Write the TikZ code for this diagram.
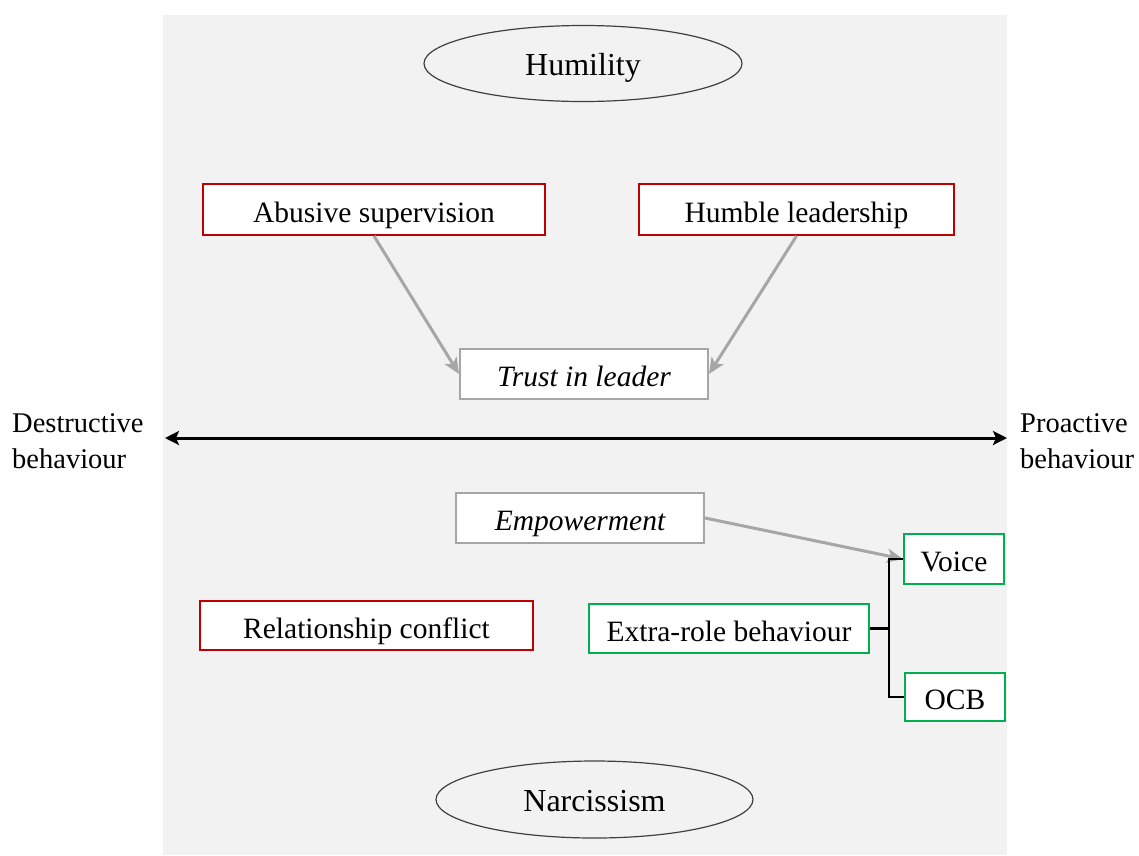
\documentclass[tikz,border=0pt]{standalone}
\usepackage{fontspec}
\setmainfont{Liberation Serif}
\usetikzlibrary{arrows.meta,shapes.geometric}
\definecolor{panel}{HTML}{F2F2F2}
\definecolor{redb}{HTML}{C00000}
\definecolor{greenb}{HTML}{00B050}
\definecolor{grayb}{HTML}{A6A6A6}
\tikzset{
  box/.style={draw, line width=2pt, fill=white, inner sep=0pt, text height=25pt, text depth=0pt, font=\fontsize{29.5}{35}\selectfont},
  redbox/.style={box, draw=redb},
  greenbox/.style={box, draw=greenb},
  graybox/.style={box, draw=grayb, font=\fontsize{29.5}{35}\selectfont\itshape},
  oval/.style={ellipse, draw=black!75, line width=1.2pt, inner sep=0pt, text height=23pt, text depth=0pt, font=\fontsize{32}{38}\selectfont},
  grayarrow/.style={draw=grayb, line width=3pt, -{Stealth[length=16pt,width=14pt,inset=4pt]}},
  sidetext/.style={align=left, anchor=west, font=\fontsize{28.5}{36}\selectfont, inner sep=0pt},
}
\begin{document}
\begin{tikzpicture}[x=1pt,y=-1pt]
\useasboundingbox (0,0) rectangle (1139,855);
\fill[panel] (163,15) rectangle (1007,855);

\node[oval, minimum width=318, minimum height=76] (hum) at (583,63.5) {Humility};
\node[oval, minimum width=317, minimum height=77] (nar) at (594.5,799.5) {Narcissism};

\node[redbox, minimum width=342, minimum height=51] (abuse) at (374,209.5) {Abusive supervision};
\node[redbox, minimum width=315, minimum height=51] (humble) at (796.5,209.5) {Humble leadership};
\node[graybox, minimum width=248, minimum height=50] (trust) at (584,374) {Trust in leader};

\draw[grayarrow] (abuse.south) -- (trust.west);
\draw[grayarrow] (humble.south) -- (trust.east);

\coordinate (L) at (165,438);
\coordinate (R) at (1007,438);
\draw[line width=3pt, {Stealth[length=14pt,width=14pt,inset=3pt]}-{Stealth[length=14pt,width=14pt,inset=3pt]}] (L) -- (R);
\node[sidetext] (destr) at (12,441) {Destructive\\behaviour};
\node[sidetext] (proac) at (1020,441) {Proactive\\behaviour};

\node[graybox, minimum width=248, minimum height=50] (emp) at (580,518) {Empowerment};
\node[greenbox, minimum width=100, minimum height=50] (voice) at (954,559) {Voice};
\node[redbox, minimum width=333, minimum height=49] (rel) at (366.5,625.5) {Relationship conflict};
\node[greenbox, minimum width=280, minimum height=49] (extra) at (729,628.5) {Extra-role behaviour};
\node[greenbox, minimum width=100, minimum height=48] (ocb) at (955,697) {OCB};

\draw[grayarrow] (emp.east) -- (voice.west);

\coordinate (bx) at (889,628.5);
\draw[line width=2.5pt] (voice.west) -- (voice.west -| bx) -- (ocb.west -| bx) -- (ocb.west);
\draw[line width=2.5pt] (extra.east) -- (bx);
\end{tikzpicture}
\end{document}
